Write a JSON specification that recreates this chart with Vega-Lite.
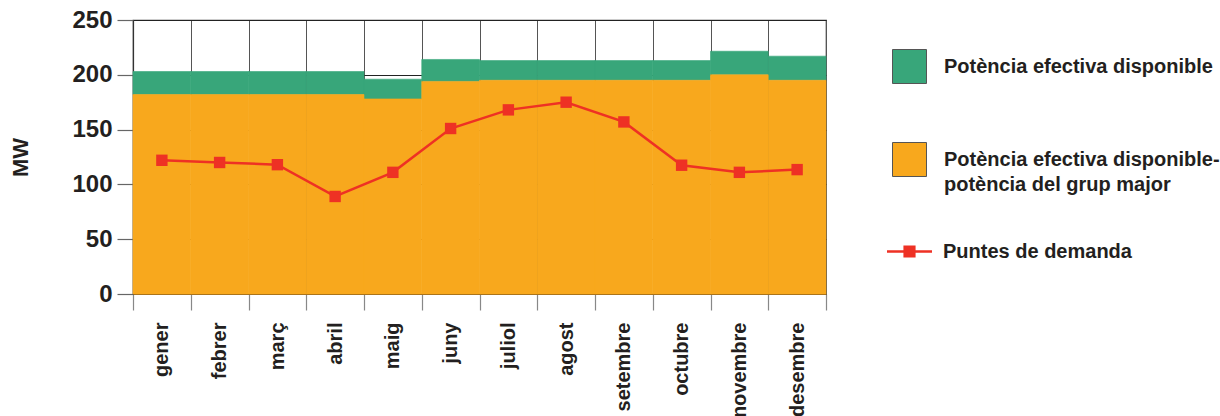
{
  "$schema": "https://vega.github.io/schema/vega-lite/v6.json",
  "autosize": {"type": "none"},
  "padding": {"left": 133, "top": 20, "right": 394, "bottom": 122},
  "width": 693,
  "height": 274,
  "background": "white",
  "config": {
    "view": {"stroke": "#333333", "strokeWidth": 1.2},
    "font": "Liberation Sans"
  },
  "data": {
    "values": [
      {"mes": "gener", "grup": 182, "total": 203, "demanda": 122},
      {"mes": "febrer", "grup": 182, "total": 203, "demanda": 120},
      {"mes": "març", "grup": 182, "total": 203, "demanda": 118},
      {"mes": "abril", "grup": 182, "total": 203, "demanda": 89},
      {"mes": "maig", "grup": 178, "total": 196, "demanda": 111},
      {"mes": "juny", "grup": 194, "total": 214, "demanda": 151},
      {"mes": "juliol", "grup": 195, "total": 213, "demanda": 168},
      {"mes": "agost", "grup": 195, "total": 213, "demanda": 175},
      {"mes": "setembre", "grup": 195, "total": 213, "demanda": 157},
      {"mes": "octubre", "grup": 195, "total": 213, "demanda": 117.5},
      {"mes": "novembre", "grup": 200, "total": 221.5, "demanda": 111},
      {"mes": "desembre", "grup": 195, "total": 217, "demanda": 113.5}
    ]
  },
  "encoding": {
    "x": {
      "field": "mes", "type": "nominal", "sort": null,
      "scale": {"paddingInner": 0, "paddingOuter": 0},
      "axis": {
        "title": null, "tickBand": "extent", "grid": true, "gridColor": "#555555", "gridWidth": 1,
        "ticks": true, "tickSize": 16, "tickColor": "#888888", "tickWidth": 1.2,
        "domain": true, "domainColor": "#8b5e1a", "domainWidth": 1.2,
        "labelAngle": -90, "labelAlign": "right", "labelBaseline": "middle",
        "labelPadding": 12, "labelFontSize": 20, "labelFontWeight": "bold",
        "labelColor": "#231f20", "labelFont": "Liberation Sans"
      }
    }
  },
  "layer": [
    {
      "mark": {"type": "bar", "stroke": "#38a67a", "strokeWidth": 0.6},
      "encoding": {
        "y": {
          "field": "total", "type": "quantitative",
          "scale": {"domain": [0, 250], "nice": false},
          "axis": {
            "title": "MW", "titleFontSize": 22, "titleFontWeight": "bold", "titleColor": "#231f20",
            "titlePadding": 39, "titleFont": "Liberation Sans",
            "values": [0, 50, 100, 150, 200, 250],
            "grid": true, "gridColor": "#222222", "gridWidth": 1,
            "ticks": true, "tickSize": 16, "tickColor": "#666666", "tickWidth": 1.2,
            "domain": true, "domainColor": "#333333", "domainWidth": 1.2,
            "labelPadding": 5, "labelFontSize": 24, "labelFontWeight": "bold",
            "labelColor": "#231f20", "labelFont": "Liberation Sans"
          }
        },
        "y2": {"field": "grup"},
        "color": {
          "datum": "Potència efectiva disponible",
          "type": "nominal",
          "scale": {
            "domain": ["Potència efectiva disponible", "Potència efectiva disponible-potència del grup major"],
            "range": ["#38a67a", "#f8a81d"]
          },
          "legend": {
            "title": null, "orient": "none", "legendX": 759, "legendY": 29, "padding": 0,
            "symbolType": "square", "symbolSize": 1156, "symbolStrokeColor": "#555555", "symbolStrokeWidth": 1,
            "symbolOpacity": 1,
            "labelFont": "Liberation Sans", "labelFontSize": 20, "labelFontWeight": "bold",
            "labelColor": "#231f20", "labelOffset": 17, "labelLimit": 400, "rowPadding": 54,
            "labelExpr": "datum.label == 'Potència efectiva disponible-potència del grup major' ? ['Potència efectiva disponible-', 'potència del grup major'] : datum.label",
            "encode": {
              "labels": {"update": {"lineHeight": {"value": 25}}},
              "symbols": {"update": {"stroke": {"value": "#555555"}, "strokeWidth": {"value": 1}}}
            }
          }
        }
      }
    },
    {
      "mark": {"type": "bar", "stroke": "#f8a81d", "strokeWidth": 0.6},
      "encoding": {
        "y": {"field": "grup", "type": "quantitative"},
        "color": {"datum": "Potència efectiva disponible-potència del grup major", "type": "nominal"}
      }
    },
    {
      "mark": {"type": "line", "strokeWidth": 2.5},
      "encoding": {
        "y": {"field": "demanda", "type": "quantitative"},
        "stroke": {
          "datum": "Puntes de demanda", "type": "nominal",
          "scale": {"domain": ["Puntes de demanda"], "range": ["#ee3124"]},
          "legend": {
            "title": null, "orient": "none", "legendX": 754, "legendY": 209, "padding": 0,
            "symbolType": "M-1,-0.055H1V0.055H-1Z M-0.27,-0.27H0.27V0.27H-0.27Z",
            "symbolSize": 2025, "symbolStrokeWidth": 0, "symbolFillColor": "#ee3124",
            "labelFont": "Liberation Sans", "labelFontSize": 20, "labelFontWeight": "bold",
            "labelColor": "#231f20", "labelOffset": 11, "labelLimit": 400,
            "encode": {
              "symbols": {"update": {"fill": {"value": "#ee3124"}, "strokeWidth": {"value": 0}, "opacity": {"value": 1}}}
            }
          }
        }
      }
    },
    {
      "mark": {"type": "point", "shape": "square", "filled": true, "size": 130, "color": "#ee3124", "opacity": 1},
      "encoding": {
        "y": {"field": "demanda", "type": "quantitative"}
      }
    }
  ]
}
